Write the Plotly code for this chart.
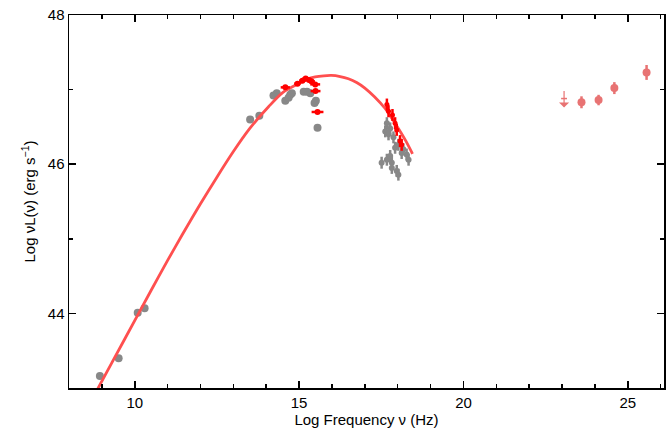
import plotly.graph_objects as go

# Model curve
curve_x = [8.7, 8.85, 9.7, 10.5, 11.0, 11.44, 12.0, 12.49, 13.0, 13.5, 14.07, 14.5, 14.98, 15.25, 15.49, 15.75, 15.98,
           16.25, 16.5, 16.75, 17.0, 17.3, 17.61, 17.8, 18.02, 18.25, 18.45]
curve_y = [42.85, 42.97, 43.66, 44.31, 44.71, 45.05, 45.47, 45.82, 46.17, 46.48, 46.77, 46.96, 47.08, 47.14, 47.17, 47.185, 47.19,
           47.175, 47.145, 47.095, 47.02, 46.90, 46.75, 46.63, 46.48, 46.31, 46.14]

# Grey archival points (radio / IR / optical)
grey_x = [8.94, 9.51, 10.09, 10.3, 13.51, 13.79, 14.22, 14.32, 14.58, 14.68, 14.73, 14.78, 15.14, 15.24, 15.34, 15.47, 15.51, 15.56]
grey_y = [43.16, 43.4, 44.01, 44.07, 46.6, 46.65, 46.92, 46.95, 46.85, 46.89, 46.93, 46.95, 46.97, 46.97, 46.95, 46.82, 46.85, 46.49]

# Grey X-ray points
gx_x = [17.67, 17.62, 17.72, 17.77, 17.87, 18.02, 17.92, 18.17, 18.27, 17.51, 17.67, 17.77, 17.82, 17.82, 17.97, 18.02, 18.12, 18.33]
gx_y = [46.55, 46.44, 46.40, 46.48, 46.36, 46.26, 46.22, 46.20, 46.13, 46.02, 46.06, 46.11, 46.02, 45.95, 45.91, 45.86, 46.15, 46.06]

# Red optical/UV points
ro_x = [14.58, 14.95, 15.1, 15.2, 15.3, 15.38, 15.49, 15.5, 15.56]
ro_y = [47.03, 47.08, 47.12, 47.15, 47.13, 47.11, 47.07, 46.98, 46.70]
ro_xerr = [0.14, 0.1, 0.1, 0.1, 0.1, 0.1, 0.15, 0.15, 0.18]

# Red X-ray points
rx_x = [17.67, 17.72, 17.84, 17.92, 17.97, 18.07, 18.12]
rx_y = [46.80, 46.71, 46.66, 46.55, 46.46, 46.31, 46.26]

# Gamma-ray points
gam_x = [23.59, 24.11, 24.59, 25.57]
gam_y = [46.83, 46.86, 47.02, 47.23]
gam_err = [0.08, 0.07, 0.08, 0.1]
ul_x = [23.06]
ul_y = [46.88]

FONT = "Liberation Sans, Arial"
GAMMA = "#e87373"

fig = go.Figure()

fig.add_trace(go.Scatter(x=grey_x, y=grey_y, mode="markers",
                         marker=dict(color="#888888", size=8), showlegend=False))
fig.add_trace(go.Scatter(x=gx_x, y=gx_y, mode="markers",
                         marker=dict(color="#888888", size=6),
                         error_y=dict(type="constant", value=0.08, color="#888888", thickness=2.5, width=0),
                         error_x=dict(type="constant", value=0.06, color="#888888", thickness=2.5, width=0),
                         showlegend=False))
fig.add_trace(go.Scatter(x=curve_x, y=curve_y, mode="lines",
                         line=dict(color="#ff4f4f", width=2.8, shape="spline", smoothing=0.8),
                         showlegend=False))
fig.add_trace(go.Scatter(x=ro_x, y=ro_y, mode="markers",
                         marker=dict(color="#ff0000", size=6),
                         error_x=dict(type="data", array=ro_xerr, color="#ff0000", thickness=2.5, width=0),
                         error_y=dict(type="constant", value=0.02, color="#ff0000", thickness=2.5, width=0),
                         showlegend=False))
fig.add_trace(go.Scatter(x=rx_x, y=rx_y, mode="markers",
                         marker=dict(color="#ff0000", size=5),
                         error_y=dict(type="constant", value=0.08, color="#ff0000", thickness=2.5, width=0),
                         error_x=dict(type="constant", value=0.05, color="#ff0000", thickness=2.5, width=0),
                         showlegend=False))
fig.add_trace(go.Scatter(x=gam_x, y=gam_y, mode="markers",
                         marker=dict(color=GAMMA, size=8),
                         error_y=dict(type="data", array=gam_err, color=GAMMA, thickness=2.5, width=0),
                         showlegend=False))
# Upper limit: short horizontal bar plus downward arrow
fig.add_trace(go.Scatter(x=ul_x, y=ul_y, mode="markers",
                         marker=dict(color=GAMMA, size=1),
                         error_x=dict(type="constant", value=0.09, color=GAMMA, thickness=1.5, width=0),
                         showlegend=False))
for ux, uy in zip(ul_x, ul_y):
    fig.add_annotation(x=ux, y=uy - 0.12, ax=ux, ay=uy + 0.12, xref="x", yref="y", axref="x", ayref="y",
                       text="", showarrow=True, arrowhead=1, arrowsize=1.4, arrowwidth=1.2, arrowcolor=GAMMA)

axis_common = dict(showline=True, linecolor="black", linewidth=1.5, mirror="allticks",
                   ticks="inside", ticklen=7, tickwidth=1.5, tickcolor="black",
                   showgrid=False, zeroline=False,
                   tickfont=dict(family=FONT, size=15, color="black"))

fig.update_xaxes(range=[8, 26.1], tickvals=[10, 15, 20, 25],
                 minor=dict(ticks="inside", ticklen=4, tickwidth=1.5, tickcolor="black", dtick=1, tick0=0, showgrid=False),
                 title=dict(text="Log Frequency ν (Hz)", font=dict(family=FONT, size=15, color="black"), standoff=4),
                 **axis_common)
fig.update_yaxes(range=[43, 48], tickvals=[44, 46, 48],
                 minor=dict(ticks="inside", ticklen=4, tickwidth=1.5, tickcolor="black", dtick=1, tick0=0, showgrid=False),
                 title=dict(text="Log νL(ν) (erg s<sup>−1</sup>)", font=dict(family=FONT, size=15, color="black"), standoff=8),
                 **axis_common)

fig.update_layout(width=672, height=434, margin=dict(l=69, r=6, t=13, b=46),
                  plot_bgcolor="white", paper_bgcolor="white", hovermode=False)

fig.write_html("out.html", config={"displayModeBar": False, "staticPlot": True},
               post_script="document.body.style.margin='0';document.body.style.overflow='hidden';")
